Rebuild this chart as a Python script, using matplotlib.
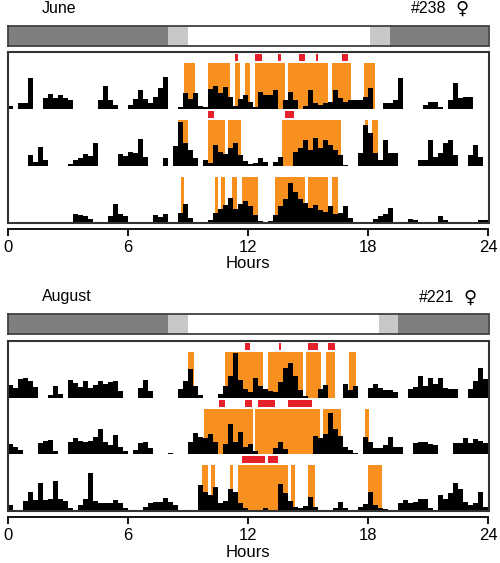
"""Double-panel actogram: activity per 15-min bin for two animals (June, August)."""

import matplotlib.pyplot as plt
import numpy as np

plt.rcParams["font.family"] = ["Liberation Sans", "DejaVu Sans"]

W, H = 500, 563
BIN_H = 0.25          # hours per activity bin
ROW_MAX = 57          # activity counts spanned by one actogram row
BOUT_TOP = 46         # height of the shaded bouts (counts)

ORANGE = "#f7901e"
RED = "#e5202a"
DARK = "#7f7f7f"
TWILIGHT = "#c8c8c8"
EDGE = "#333333"

HOURS_TICKS = [0, 6, 12, 18, 24]

# ---- June, animal #238 -------------------------------------------------
JUNE_DAWN = (8.0, 9.0)
JUNE_DUSK = (18.07, 19.07)

JUNE_ROW1 = [3, 0, 6, 6, 31, 0, 0, 11, 15, 11, 14, 11, 9, 0, 0, 0, 0, 0, 9, 23, 9, 4, 0, 0,
             4, 10, 19, 10, 6, 12, 21, 32, 0, 0, 2, 16, 10, 16, 3, 2, 20, 23, 16, 22, 12, 3, 10, 14,
             7, 2, 17, 14, 14, 19, 0, 9, 17, 9, 0, 3, 19, 6, 4, 6, 7, 19, 11, 7, 9, 9, 9, 12,
             21, 0, 0, 6, 6, 9, 31, 0, 0, 0, 0, 4, 7, 7, 2, 0, 9, 26, 11, 12, 12, 0, 0, 0]
JUNE_ROW2 = [0, 0, 0, 0, 11, 4, 19, 6, 0, 0, 0, 0, 2, 6, 8, 12, 10, 23, 0, 0, 0, 0, 12, 10,
             14, 13, 27, 9, 0, 0, 0, 8, 0, 20, 44, 23, 16, 8, 0, 6, 3, 21, 14, 12, 18, 23, 11, 5,
             2, 3, 8, 4, 0, 4, 9, 0, 0, 14, 18, 26, 16, 28, 18, 26, 21, 16, 11, 1, 0, 0, 13, 41,
             33, 13, 6, 26, 13, 13, 0, 0, 0, 0, 6, 6, 26, 9, 13, 23, 26, 11, 0, 0, 11, 21, 9, 0]
JUNE_ROW3 = [0, 0, 0, 0, 0, 0, 0, 0, 0, 0, 0, 0, 0, 9, 8, 7, 4, 0, 0, 0, 7, 19, 9, 7,
             0, 0, 0, 0, 0, 8, 6, 9, 0, 0, 10, 19, 5, 0, 0, 0, 3, 10, 14, 18, 25, 14, 19, 22,
             17, 8, 2, 0, 2, 8, 17, 24, 40, 31, 24, 20, 15, 18, 13, 11, 17, 9, 10, 17, 5, 0, 0, 0,
             0, 4, 7, 9, 15, 0, 0, 0, 4, 3, 0, 0, 0, 0, 7, 3, 0, 0, 0, 0, 0, 0, 3, 3]

JUNE_BOUTS = [
    [(8.8, 9.35), (10.0, 11.1), (11.35, 11.6), (11.85, 12.1), (12.35, 13.85),
     (14.0, 16.0), (16.2, 17.15), (17.8, 18.35)],
    [(8.5, 9.0), (10.0, 10.85), (11.0, 11.65), (13.7, 16.65), (17.85, 18.0), (18.17, 18.5)],
    [(8.65, 8.82), (10.33, 10.5), (10.67, 10.83), (11.2, 11.47), (11.68, 12.5),
     (13.35, 14.85), (15.0, 16.0), (16.2, 16.5)],
]
JUNE_MARKS = [
    [(11.36, 11.48), (12.35, 12.68), (13.52, 13.65), (14.52, 14.82), (15.4, 15.5), (16.7, 17.0)],
    [(10.0, 10.3), (13.85, 14.32)],
    [],
]

# ---- August, animal #221 -----------------------------------------------
AUG_DAWN = (8.0, 9.0)
AUG_DUSK = (18.55, 19.5)

AUG_ROW1 = [13, 10, 19, 20, 17, 11, 0, 0, 3, 12, 4, 0, 18, 15, 11, 17, 10, 13, 17, 14, 16, 17, 7, 0,
            0, 0, 10, 18, 7, 0, 0, 0, 0, 0, 9, 17, 29, 12, 3, 0, 0, 0, 4, 12, 22, 45, 18, 9,
            6, 20, 12, 9, 7, 6, 16, 30, 35, 22, 8, 2, 0, 0, 9, 13, 0, 0, 0, 14, 8, 12, 0, 0,
            10, 14, 10, 8, 8, 6, 0, 0, 9, 11, 22, 12, 20, 14, 20, 10, 9, 9, 0, 0, 9, 17, 30, 19]
AUG_ROW2 = [10, 7, 4, 0, 0, 0, 11, 13, 14, 3, 0, 0, 12, 16, 13, 12, 13, 17, 25, 12, 9, 19, 7, 3,
            0, 4, 11, 12, 6, 0, 0, 0, 1, 0, 0, 0, 12, 21, 17, 16, 20, 12, 0, 10, 31, 12, 22, 7,
            10, 3, 0, 0, 0, 6, 12, 5, 0, 0, 0, 0, 0, 18, 16, 20, 42, 25, 18, 7, 4, 1, 0, 17,
            12, 6, 6, 9, 17, 7, 7, 0, 0, 11, 12, 12, 10, 9, 0, 0, 0, 11, 11, 16, 11, 15, 13, 11]
AUG_ROW3 = [6, 0, 0, 10, 19, 11, 28, 11, 12, 30, 12, 10, 3, 0, 6, 12, 38, 10, 8, 8, 8, 11, 8, 3,
            0, 0, 0, 4, 8, 9, 9, 13, 9, 6, 0, 0, 0, 0, 26, 19, 16, 24, 8, 10, 22, 19, 8, 3,
            0, 1, 0, 3, 0, 0, 27, 18, 10, 4, 3, 5, 14, 4, 0, 0, 0, 3, 9, 3, 0, 0, 4, 7,
            19, 6, 3, 2, 0, 0, 8, 11, 8, 9, 12, 12, 3, 0, 16, 12, 18, 28, 22, 9, 6, 8, 19, 4]

AUG_BOUTS = [
    [(9.0, 9.32), (10.85, 12.75), (13.0, 14.75), (14.88, 15.65), (15.9, 16.32), (17.02, 17.38)],
    [(9.8, 12.25), (12.35, 15.6), (15.72, 16.65), (17.85, 18.02)],
    [(9.7, 10.0), (10.15, 10.35), (11.1, 11.27), (11.5, 14.0), (14.15, 14.35),
     (15.0, 15.35), (18.0, 18.7)],
]
AUG_MARKS = [
    [(11.85, 12.12), (13.55, 13.67), (15.0, 15.5), (16.0, 16.32)],
    [(10.55, 10.85), (11.85, 12.2), (12.5, 13.35), (14.0, 15.2)],
    [(11.68, 12.85), (13.0, 13.5)],
]


def px_rect(x0, y0, x1, y1):
    """Pixel box (top-left origin) -> figure fraction rect."""
    return [x0 / W, 1 - y1 / H, (x1 - x0) / W, (y1 - y0) / H]


def draw_panel(fig, y0, title, animal, dawn, dusk, rows, bouts, marks):
    x0, x1 = 7.5, 488.5

    fig.text(title[1] / W, 1 - y0 / H, title[0], ha="center", va="center", fontsize=11.5)
    fig.text(animal[1] / W, 1 - y0 / H, animal[0], ha="center", va="center", fontsize=11.5)
    fig.text(animal[2] / W, 1 - (y0 + 0.5) / H, "\u2640", ha="center", va="center",
             fontsize=13, family="DejaVu Sans")

    # light/dark bar
    lab = fig.add_axes(px_rect(x0, y0 + 17, x1, y0 + 37))
    lab.set_xlim(0, 24)
    lab.set_ylim(0, 1)
    lab.axvspan(0, dawn[0], color=DARK, lw=0)
    lab.axvspan(dawn[0], dawn[1], color=TWILIGHT, lw=0)
    lab.axvspan(dusk[0], dusk[1], color=TWILIGHT, lw=0)
    lab.axvspan(dusk[1], 24, color=DARK, lw=0)
    lab.set_xticks([])
    lab.set_yticks([])
    for sp in lab.spines.values():
        sp.set_linewidth(1.3)
        sp.set_color("#404040")

    # actogram
    ax = fig.add_axes(px_rect(x0, y0 + 44, x1, y0 + 214))
    ax.set_xlim(0, 24)
    ax.set_ylim(0, 3 * ROW_MAX)
    edges = np.arange(96) * BIN_H
    for i, (counts, row_bouts, row_marks) in enumerate(zip(rows, bouts, marks)):
        base = (2 - i) * ROW_MAX
        if row_bouts:
            starts = [s for s, e in row_bouts]
            widths = [e - s for s, e in row_bouts]
            ax.bar(starts, BOUT_TOP, width=widths, bottom=base, align="edge",
                   color=ORANGE, linewidth=0, zorder=1)
        if row_marks:
            starts = [s for s, e in row_marks]
            widths = [e - s for s, e in row_marks]
            ax.bar(starts, 7, width=widths, bottom=base + 48, align="edge",
                   color=RED, linewidth=0, zorder=1)
        ax.bar(edges, counts, width=BIN_H, bottom=base, align="edge",
               color="black", linewidth=0, zorder=2)
    ax.set_xticks([])
    ax.set_yticks([])
    for sp in ax.spines.values():
        sp.set_linewidth(1.5)
        sp.set_color(EDGE)

    # hours axis below the box
    tax = fig.add_axes(px_rect(x0, y0 + 220, x1, y0 + 220.1))
    tax.set_xlim(0, 24)
    tax.set_yticks([])
    for side in ("left", "right", "top"):
        tax.spines[side].set_visible(False)
    tax.spines["bottom"].set_linewidth(1.3)
    tax.set_xticks(HOURS_TICKS)
    tax.tick_params(axis="x", direction="out", length=5, width=1.3, labelsize=12, pad=3)
    tax.set_xlabel("Hours", fontsize=12, labelpad=1)


fig = plt.figure(figsize=(W / 100, H / 100), dpi=100)
draw_panel(fig, 8.5, ("June", 59), ("#238", 429, 462), JUNE_DAWN, JUNE_DUSK,
           [JUNE_ROW1, JUNE_ROW2, JUNE_ROW3], JUNE_BOUTS, JUNE_MARKS)
draw_panel(fig, 297, ("August", 67), ("#221", 437, 470), AUG_DAWN, AUG_DUSK,
           [AUG_ROW1, AUG_ROW2, AUG_ROW3], AUG_BOUTS, AUG_MARKS)
fig.savefig("out.png", dpi=100)
